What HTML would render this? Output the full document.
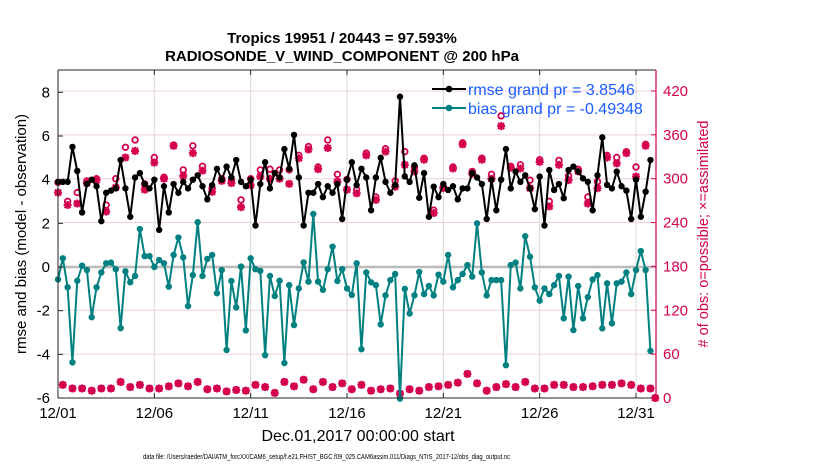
<!DOCTYPE html>
<html><head><meta charset="utf-8"><style>
body{margin:0;background:#fff;width:830px;height:470px;overflow:hidden}
svg{display:block;font-family:"Liberation Sans",Arial,sans-serif}
</style></head><body>
<svg id="chart" width="830" height="470" viewBox="0 0 830 470" xmlns="http://www.w3.org/2000/svg">
<text x="342" y="43" text-anchor="middle" font-size="15" font-weight="bold">Tropics 19951 / 20443 = 97.593%</text>
<text x="342" y="61" text-anchor="middle" font-size="15" font-weight="bold">RADIOSONDE_V_WIND_COMPONENT @ 200 hPa</text>
<g id="grid"></g>
<g id="marks"></g>
<g id="axes"></g>
<text x="358" y="441" text-anchor="middle" font-size="16">Dec.01,2017 00:00:00 start</text>
<text transform="translate(26,234) rotate(-90)" text-anchor="middle" font-size="15">rmse and bias (model - observation)</text>
<text transform="translate(708,234) rotate(-90)" text-anchor="middle" font-size="14.5" fill="#d4004f"># of obs: o=possible; ×=assimilated</text>
<text x="143" y="459" font-size="7" textLength="367" lengthAdjust="spacingAndGlyphs">data file: /Users/raeder/DAI/ATM_forcXX/CAM6_setup/f.e21.FHIST_BGC.f09_025.CAM6assim.011/Diags_NTrS_2017-12/obs_diag_output.nc</text>
<g>
<line x1="432" y1="89" x2="466" y2="89" stroke="#000" stroke-width="2"/>
<circle cx="449" cy="89" r="3.3" fill="#000"/>
<text x="468" y="95" font-size="16" fill="#1a5cff">rmse grand pr = 3.8546</text>
<line x1="432" y1="108" x2="466" y2="108" stroke="#008080" stroke-width="2"/>
<circle cx="449" cy="108" r="3.3" fill="#008080"/>
<text x="468" y="114" font-size="16" fill="#1a5cff">bias grand pr = -0.49348</text>
</g>
</svg>
<script>
const rmse=[3.9,3.9,3.9,5.5,4.4,2.5,3.8,4.0,3.7,2.1,3.4,3.5,3.6,4.9,3.6,2.3,4.1,4.3,3.8,3.6,4.0,1.7,3.7,2.5,3.8,3.4,3.9,3.6,4.0,4.2,3.7,3.1,
3.75,4.5,4.0,4.6,4.1,4.9,3.9,3.7,4.0,1.9,3.8,4.8,3.6,4.3,4.1,5.4,4.5,6.05,4.1,1.9,3.4,3.4,3.8,3.2,3.7,3.4,3.8,2.2,4.0,4.8,3.75,
4.5,4.1,2.6,4.1,5.0,3.9,3.4,3.75,7.8,4.15,3.9,4.66,3.17,4.3,2.3,3.68,3.2,3.8,3.53,3.7,3.1,3.6,3.6,4.3,4.1,3.8,2.2,4.0,2.6,4.0,5.4,
3.6,4.37,3.9,4.2,3.6,2.65,4.14,1.9,4.44,3.53,3.8,3.15,4.44,4.6,4.37,4.06,3.9,2.6,4.2,5.94,3.76,3.6,4.37,3.7,3.5,2.2,4.0,2.3,3.45,4.9];
const bias=[-0.57,0.4,-0.93,-4.37,-0.63,0.06,-0.14,-2.3,-0.93,-0.25,0.17,0.2,-0.1,-2.8,-0.2,-0.7,-0.41,1.74,0.5,0.5,0,0.32,0.17,-0.9,0.55,1.35,0.44,-1.79,-0.37,2.05,-0.41,0.37,
0.55,-1.2,-0.14,-3.8,-0.64,-1.85,0.02,-2.9,0.4,-0.1,-0.18,-4.04,-0.41,-1.33,-0.63,-4.4,-0.83,-2.66,-0.98,0.21,-0.67,2.43,-0.67,-1.05,-0.1,0.93,-0.64,-0.1,-0.98,-1.28,0.17,
-3.77,-0.25,-0.7,-0.83,-2.63,-1.3,-0.6,-0.32,-6.03,-1.0,-2.13,-1.3,-0.23,-1.24,-0.87,-1.3,-0.35,-0.67,0.55,-0.93,-0.6,-0.32,0.09,-0.44,2.0,-0.25,-1.3,-0.6,-0.6,-0.6,-4.5,
0.09,0.2,-0.98,1.41,0.47,-0.93,-1.54,-0.98,-1.24,-0.83,-0.41,-2.35,-0.44,-2.89,-0.87,-2.35,-1.38,-0.57,-0.37,-2.81,-0.75,-2.58,-0.75,-0.67,-0.25,-1.24,-0.14,0.73,-0.14,-3.85];
const possTop=[295,269,281,297,300,264,300,343,353,293,329,302,346,312,345,317,
287,300,298,271,300,312,313,312,312,332,344,316,353,306,299,285,
335,275,341,297,337,316,328,257,289,316,349,310,328,306,386,
317,319,298,326,269,325,304,313,275,296,332,329,337,316,347,0];
const assimTop=[281,264,266,294,298,255,288,329,338,285,322,300,345,304,335,311,
282,297,294,261,291,303,300,300,293,328,340,313,342,296,285,280,
332,271,337,289,319,310,326,253,287,314,347,307,326,300,372,
315,314,287,323,262,319,298,310,266,287,329,321,335,303,345,0];
const countBottom=[18,13,13,10,13,13,22,15,18,13,13,16,20,16,22,12,
13,9,11,10,18,15,7,22,16,25,12,22,15,20,12,18,
10,12,13,6,12,10,15,16,18,21,33,20,10,15,19,
15,22,13,13,18,18,15,15,16,18,18,20,18,13,13];
const xTickLabels=['12/01','12/06','12/11','12/16','12/21','12/26','12/31'];
const yTicks=[-6,-4,-2,0,2,4,6,8];
const rTicks=[0,60,120,180,240,300,360,420];

const NS='http://www.w3.org/2000/svg';
const L=58,R=656,T=70,B=398;
const xs=k=>L+k*(578/120);
const ys=v=>267-v*21.83;
const yr=c=>B-c*0.7310;
const MC='#d4004f';
function mk(parent,tag,attrs){const e=document.createElementNS(NS,tag);for(const k in attrs)e.setAttribute(k,attrs[k]);parent.appendChild(e);return e;}
const grid=document.getElementById('grid'),marks=document.getElementById('marks'),axes=document.getElementById('axes');
rTicks.forEach(c=>{if(c===0)return;const g=mk(grid,'line',{x1:L,x2:R,y1:yr(c),y2:yr(c),stroke:'#ecd0dc','stroke-width':1});

});
xTickLabels.forEach((t,i)=>{const x=xs(i*20);if(i>0){const g=mk(grid,'line',{x1:x,x2:x,y1:T,y2:B,stroke:'#d8d8d8','stroke-width':1});

}});
const z=mk(grid,'line',{x1:L,x2:R,y1:ys(0),y2:ys(0),stroke:'#bbbbbb','stroke-width':2.5});


function circ(x,y){const c=mk(marks,'circle',{cx:x,cy:y,r:2.8,fill:'none',stroke:MC,'stroke-width':1.8});

}
function star(x,y){const g=mk(marks,'g',{transform:`translate(${x},${y})`,stroke:MC,'stroke-width':2.2});


mk(g,'line',{x1:-4,y1:0,x2:4,y2:0});mk(g,'line',{x1:0,y1:-4,x2:0,y2:4});
mk(g,'line',{x1:-3,y1:-3,x2:3,y2:3});mk(g,'line',{x1:-3,y1:3,x2:3,y2:-3});}
possTop.forEach((c,i)=>circ(xs(2*i),yr(c)));
assimTop.forEach((c,i)=>star(xs(2*i),yr(c)));
countBottom.forEach((c,i)=>{circ(xs(2*i+1),yr(c));star(xs(2*i+1),yr(c));});
function series(vals,color,name){
const p=mk(marks,'polyline',{points:vals.map((v,i)=>xs(i)+','+ys(v)).join(' '),fill:'none',stroke:color,'stroke-width':2,'stroke-linejoin':'round'});


vals.forEach((v,i)=>{const c=mk(marks,'circle',{cx:xs(i),cy:ys(v),r:3.2,fill:color});

});}
series(bias,'#008080','bias');
series(rmse,'#000000','rmse');
const fr=mk(axes,'path',{d:`M${L},${T}H${R}M${L},${T}V${B}H${R}`,fill:'none',stroke:'#262626','stroke-width':1});


const ra=mk(axes,'line',{x1:R,x2:R,y1:T,y2:B,stroke:MC,'stroke-width':1.2});


yTicks.forEach(v=>{const y=ys(v);mk(axes,'line',{x1:L,x2:L+5,y1:y,y2:y,stroke:'#262626'});
const t=mk(axes,'text',{x:L-8,y:y+5,'text-anchor':'end','font-size':15});t.textContent=v;

});
rTicks.forEach(c=>{const y=yr(c);mk(axes,'line',{x1:R-5,x2:R,y1:y,y2:y,stroke:MC});
const t=mk(axes,'text',{x:R+7,y:y+5,'font-size':15,fill:MC});t.textContent=c;

});
xTickLabels.forEach((s,i)=>{const x=xs(i*20);mk(axes,'line',{x1:x,x2:x,y1:B,y2:B-5,stroke:'#262626'});mk(axes,'line',{x1:x,x2:x,y1:T,y2:T+5,stroke:'#262626'});
const t=mk(axes,'text',{x:x,y:B+20,'text-anchor':'middle','font-size':15});t.textContent=s;

});
</script>
</body></html>
